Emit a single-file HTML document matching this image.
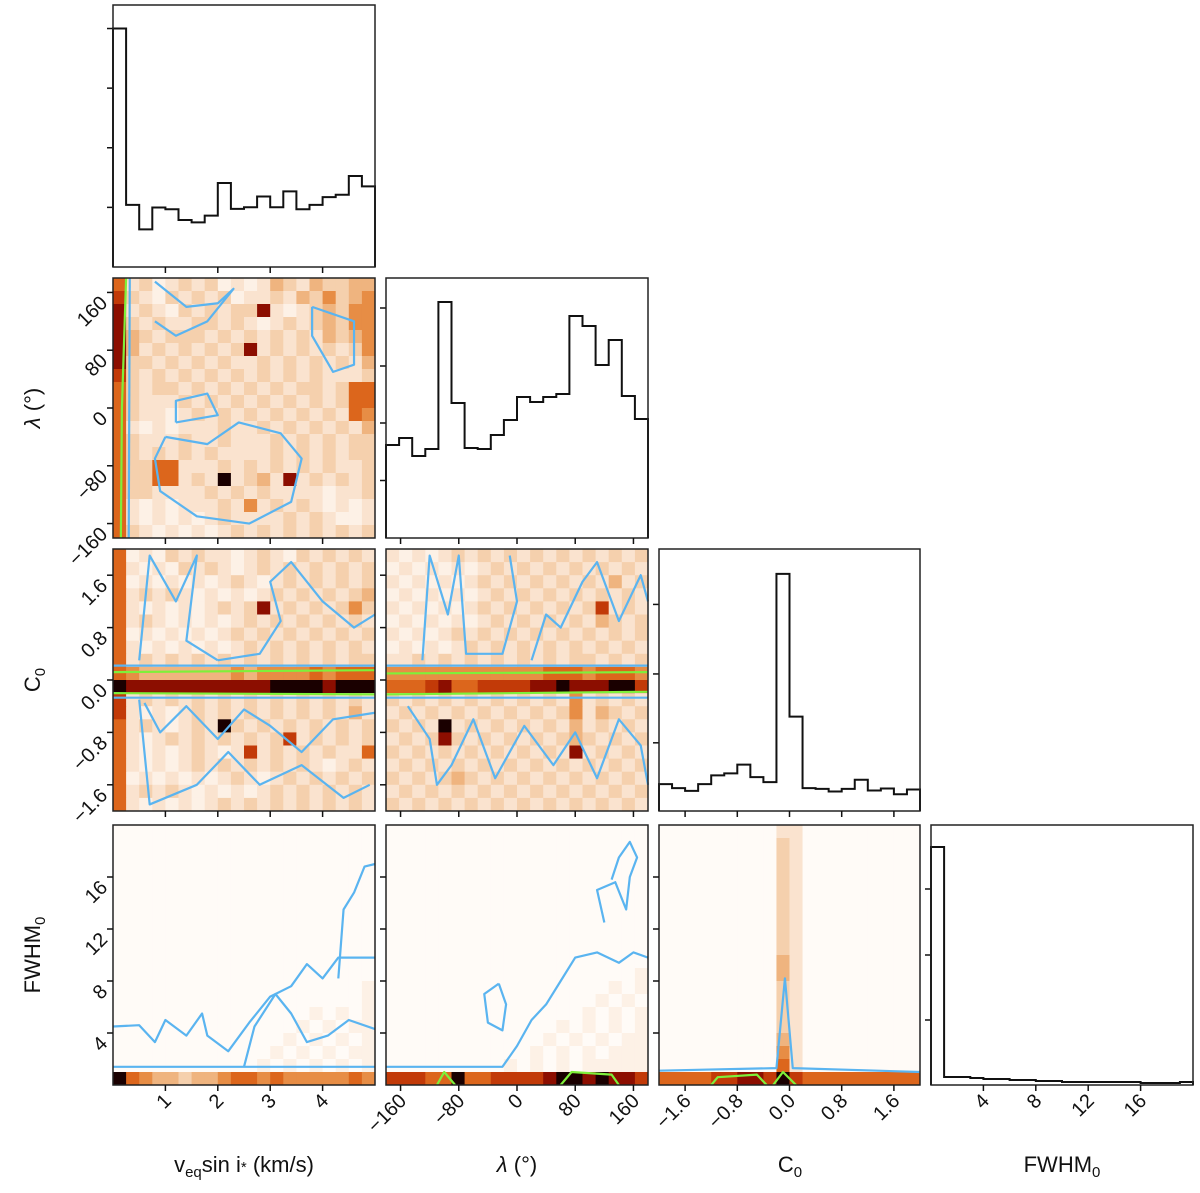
<!DOCTYPE html>
<html><head><meta charset="utf-8">
<style>
html,body{margin:0;padding:0;background:#fff;}
svg{display:block;font-family:"Liberation Sans",sans-serif;}
</style></head>
<body>
<svg id="c" width="1200" height="1193" viewBox="0 0 1200 1193" xmlns="http://www.w3.org/2000/svg"></svg>
<script>
// ---- data ----
const paramNames = ["v", "lambda", "C0", "FWHM0"];
const paramMin = [0, -180, -2, 0];
const paramMax = [5, 180, 2, 20];
const xTickVals = [[1,2,3,4],[-160,-80,0,80,160],[-1.6,-0.8,0,0.8,1.6],[4,8,12,16]];
const xTickLabels = [["1","2","3","4"],["−160","−80","0","80","160"],["−1.6","−0.8","0.0","0.8","1.6"],["4","8","12","16"]];

const histV = [710,185,112,177,172,140,133,153,250,173,178,210,178,225,172,185,208,215,271,240];
const histVMax = 780;
const histVTicks = [177.5,355,532.5,710];
const histLam = [93,100,82,89,236,135,90,89,103,118,141,136,141,144,222,212,173,198,142,119];
const histLamMax = 260;
const histLamTicks = [57.5,115,172,230];
const histC0 = [80,68,60,80,106,112,138,101,86,706,281,68,66,58,66,93,61,67,50,64];
const histC0Max = 780;
const histC0Ticks = [203,408,615];
const histF = [238,8,8,7,6,6,5,5,4,4,3,3,3,3,3,3,2,2,2,3];
const histFMax = 260;
const histFTicks = [65,130,196];

const gridLamV = [
"62312323121243243344","73213232312232435345","82321323233821234355","83232233232123234355",
"84323332323232324345","84232323238232323235","83323232322323232324","73232323232323232223",
"63233232323232332366","63222323232323232366","63221232323232323265","62121222322323232324",
"63222322322232323233","63232323222232323233","63366222323232323223","63366232923428232323",
"63322223232322221223","62121222325232321212","62121212322223232112","63212121232323232323"];
const gridC0V = [
"61213232212321323232","62121323212323232323","61212121232123232323","62323212121232323234",
"62121212323823232353","62321212123232323232","61212121232323232323","62121212123232323232",
"62323232323232323233","65444444454555565666","98888888888899998999","72323232323232323232",
"72121232323232323242","62321232932323232323","62123232323237232323","62121232127232323226",
"62121232323232321232","61212121232123232323","62323212121232323232","62121212323232323232"];
const gridC0Lam = [
"21212323232323232323","12121212323232323232","21212123232323232423","12121212323232323232",
"21212123232323237232","12121212323232324323","21212323232323232323","12121232323232323232",
"22323232323232332323","55555555555566656665","66678667777889888997","32323232323232523232",
"23232323232323524323","32329232323232423232","23238323232323432323","32323232323232823232",
"23232323232323232323","32323432323232323232","23232323232323232323","32323232323232323232"];
const gridFV = [
"00000000000000000000","00000000000000000000","00000000000000000000","00000000000000000000",
"00000000000000000000","00000000000000000000","00000000000000000000","00000000000000000000",
"00000000000000000000","00000000000000000000","00000000000000000000","00000000000000000000",
"00000000000000000001","00000000000000000001","00000000000000010101","00000000000000101011",
"00000000000001010101","00000000000010101011","00000000000101010101","96544344566565555565"];
const gridFLam = [
"00000000000000000000","00000000000000000000","00000000000000000000","00000000000000000000",
"00000000000000000000","00000000000000000000","00000000000000000000","00000000000000000000",
"00000000000000000000","00000000000000000000","00000000000000000000","00000000000000000001",
"00000000000000000101","00000000000000001010","00000000000000010101","00000000000001010101",
"00000000000010101011","00000000000101010111","00000000010101011111","77766966777789989887"];
const gridFC0 = [
"00000000022000000000","00000000032000000000","00000000032000000000","00000000032000000000",
"00000000032000000000","00000000032000000000","00000000032000000000","00000000032000000000",
"00000000032000000000","00000000032000000000","00000000042000000000","00000000042000000000",
"00000000032000000000","00000000032000000000","00000000032000000000","00000000032000000000",
"00000000042000000000","00000000052000000000","00000000062000000000","66667788797666666666"];

// contours in data coordinates [x, y]; px/py are 1-based param indices
const contourBlue = [
 {px:1, py:4, pts:[[0,1.4],[5,1.4]]},
 {px:1, py:4, pts:[[0,4.5],[0.5,4.6],[0.8,3.3],[1.0,5.0],[1.4,3.8],[1.7,5.5],[1.8,3.8],[2.2,2.6],[2.6,4.8],[3.0,6.8],[3.4,7.6],[3.7,9.3],[4.0,8.2],[4.3,9.8],[5,9.8]]},
 {px:1, py:4, pts:[[4.3,8.2],[4.4,13.5],[4.6,14.8],[4.8,16.8],[5,17.0]]},
 {px:1, py:4, pts:[[2.5,1.4],[2.7,4.5],[3.1,7.0],[3.4,5.5],[3.7,3.3],[4.1,3.8],[4.5,5.0],[5,4.3]]},
 {px:2, py:4, pts:[[-180,1.4],[-20,1.4],[0,3.0],[20,5.0],[40,6.2],[60,8.0],[80,9.8],[110,10.2],[140,9.4],[160,10.2],[180,9.8]]},
 {px:2, py:4, pts:[[120,12.5],[110,15],[135,15.6],[150,13.5],[155,16.0],[165,17.5],[155,18.7],[140,17.5],[130,15.8]]},
 {px:2, py:4, pts:[[-25,7.8],[-15,6.2],[-20,4.2],[-40,4.8],[-45,7.0],[-25,7.8]]},
 {px:3, py:4, pts:[[-2,1.1],[-0.2,1.3],[-0.07,8.2],[0.05,1.3],[2,1.0]]},
 {px:1, py:3, pts:[[0,0.22],[5,0.22]]},
 {px:1, py:3, pts:[[0,-0.27],[5,-0.27]]},
 {px:2, py:3, pts:[[-180,0.22],[180,0.22]]},
 {px:2, py:3, pts:[[-180,-0.27],[180,-0.27]]},
 {px:1, py:2, pts:[[0.3,-180],[0.32,180]]},
 {px:1, py:2, pts:[[1.0,-40],[1.8,-50],[2.4,-20],[3.2,-35],[3.6,-70],[3.4,-130],[2.6,-160],[1.6,-150],[0.9,-115],[0.8,-70],[1.0,-40]]},
 {px:1, py:2, pts:[[1.2,-20],[2.0,-10],[1.8,20],[1.2,10],[1.2,-20]]},
 {px:1, py:2, pts:[[0.8,175],[1.4,140],[2.0,145],[2.3,165],[1.8,120],[1.2,100],[0.8,120]]},
 {px:1, py:2, pts:[[3.8,140],[4.6,120],[4.6,60],[4.2,50],[3.8,100],[3.8,140]]},
 {px:1, py:3, pts:[[0.5,-0.3],[0.7,-1.9],[1.6,-1.6],[2.2,-1.1],[2.8,-1.6],[3.6,-1.3],[4.4,-1.8],[4.9,-1.6]]},
 {px:1, py:3, pts:[[0.6,-0.35],[0.9,-0.8],[1.4,-0.4],[2.0,-0.9],[2.5,-0.45],[3.0,-0.7],[3.6,-1.1],[4.2,-0.6],[5,-0.5]]},
 {px:1, py:3, pts:[[0.5,0.3],[0.7,1.9],[1.2,1.2],[1.6,1.9],[1.4,0.6],[2.0,0.3]]},
 {px:1, py:3, pts:[[2.0,0.3],[2.8,0.4],[3.2,0.9],[3.0,1.5],[3.4,1.8],[4.0,1.2],[4.6,0.8],[5,1.0]]},
 {px:2, py:3, pts:[[-130,0.3],[-120,1.9],[-95,1.0],[-80,1.9],[-70,0.4],[-20,0.4],[0,1.2],[-10,1.9]]},
 {px:2, py:3, pts:[[20,0.3],[40,1.0],[60,0.8],[90,1.5],[110,1.8],[140,0.9],[170,1.6],[180,1.2]]},
 {px:2, py:3, pts:[[-150,-0.4],[-120,-0.9],[-110,-1.6],[-90,-1.3],[-60,-0.6],[-30,-1.5],[10,-0.7],[50,-1.3],[80,-0.8],[110,-1.5],[140,-0.6],[170,-1.0],[180,-1.6]]}
];
const contourGreen = [
 {px:1, py:2, pts:[[0.15,-180],[0.17,0],[0.25,180]]},
 {px:1, py:3, pts:[[0,0.12],[5,0.15]]},
 {px:1, py:3, pts:[[0,-0.2],[5,-0.22]]},
 {px:2, py:3, pts:[[-180,0.1],[180,0.12]]},
 {px:2, py:3, pts:[[-180,-0.22],[180,-0.18]]},
 {px:3, py:4, pts:[[-1.2,0],[-1.1,0.6],[-0.5,0.8],[-0.35,0]]},
 {px:3, py:4, pts:[[-0.25,0],[-0.1,1.0],[0.1,0]]},
 {px:2, py:4, pts:[[-110,0],[-100,1.0],[-85,0]]},
 {px:2, py:4, pts:[[60,0],[75,1.0],[130,0.8],[140,0]]}
];

// ---- geometry ----
const PX = [[113,375],[386,648],[659,920],[931,1193]];
const PY = [[5,267],[278,538],[549,811],[825,1085]];
const NS = "http://www.w3.org/2000/svg";
const svg = document.getElementById('c');
function el(tag, attrs, parent){ const e=document.createElementNS(NS,tag); for(const k in attrs) e.setAttribute(k,attrs[k]); (parent||svg).appendChild(e); return e; }
function sx(p, v){ return PX[p][0] + (v-paramMin[p])/(paramMax[p]-paramMin[p])*(PX[p][1]-PX[p][0]); }
function sy(p, r, v){ return PY[r][1] - (v-paramMin[p])/(paramMax[p]-paramMin[p])*(PY[r][1]-PY[r][0]); }
const cmap = ["#fffbf7","#fdf1e6","#fae3cf","#f5d0ad","#efb47f","#e78d45","#dc661c","#c23a08","#8c0e00","#1a0000"];

function heat(col,row,grid){
  const g = el('g',{});
  
  
  const n = grid.length, m = grid[0].length;
  const dx=(paramMax[col]-paramMin[col])/m, dy=(paramMax[row]-paramMin[row])/n;
  for(let i=0;i<n;i++) for(let j=0;j<m;j++){
    const v = +grid[i][j];
    const x0=sx(col,paramMin[col]+j*dx), x1=sx(col,paramMin[col]+(j+1)*dx);
    const yTop=sy(row,row,paramMax[row]-i*dy), yBot=sy(row,row,paramMax[row]-(i+1)*dy);
    const r = el('rect',{x:x0,y:yTop,width:x1-x0+0.4,height:yBot-yTop+0.4,fill:cmap[v]},g);
    
    
  }
}
function hist(p,counts,ymax,ticks){
  const n=counts.length, dx=(paramMax[p]-paramMin[p])/n;
  const y1=PY[p][1], y0=PY[p][0];
  const ys=c=>y1-c/ymax*(y1-y0);
  let d='M'+sx(p,paramMin[p])+' '+y1;
  for(let i=0;i<n;i++){ d+=' L'+sx(p,paramMin[p]+i*dx)+' '+ys(counts[i])+' L'+sx(p,paramMin[p]+(i+1)*dx)+' '+ys(counts[i]); }
  d+=' L'+sx(p,paramMax[p])+' '+y1;
  const h=el('path',{d:d,fill:'none',stroke:'#111','stroke-width':2});
  
  
  for(const t of ticks){
    const tk=el('line',{x1:PX[p][0]-6,x2:PX[p][0],y1:ys(t),y2:ys(t),stroke:'#111','stroke-width':1.5});
    
    
  }
}
function contours(list,color){
  for(const c of list){
    const d=c.pts.map((q,i)=>(i?'L':'M')+sx(c.px-1,q[0])+' '+sy(c.py-1,c.py-1,q[1])).join(' ');
    const p=el('path',{d:d,fill:'none',stroke:color,'stroke-width':2.2,'stroke-linejoin':'round'});
    
    
  }
}

heat(0,1,gridLamV); heat(0,2,gridC0V); heat(1,2,gridC0Lam);
heat(0,3,gridFV); heat(1,3,gridFLam); heat(2,3,gridFC0);
// clip contours to panels via drawing order (contours are within ranges)
contours(contourBlue,'#5ab4f0');
contours(contourGreen,'#7ef03a');
hist(0,histV,histVMax,histVTicks);
hist(1,histLam,histLamMax,histLamTicks);
hist(2,histC0,histC0Max,histC0Ticks);
hist(3,histF,histFMax,histFTicks);

for(let r=0;r<4;r++) for(let c=0;c<=r;c++){
  const f=el('rect',{x:PX[c][0],y:PY[r][0],width:PX[c][1]-PX[c][0],height:PY[r][1]-PY[r][0],fill:'none',stroke:'#222','stroke-width':1.5});
  
  
  for(const t of xTickVals[c]){
    const x=sx(c,t);
    const tk=el('line',{x1:x,x2:x,y1:PY[r][1],y2:PY[r][1]+6,stroke:'#111','stroke-width':1.5});
    
    
  }
  if(c<r){
    xTickVals[r].forEach((t,i)=>{
      const y=sy(r,r,t);
      const tk=el('line',{x1:PX[c][0]-6,x2:PX[c][0],y1:y,y2:y,stroke:'#111','stroke-width':1.5});
      
      
      if(c===0){
        const tx=el('text',{x:PX[0][0]-10,y:y+14,'font-size':20,'text-anchor':'end',fill:'#111',transform:'rotate(-45 '+(PX[0][0]-10)+' '+(y+6)+')'});
        tx.textContent=xTickLabels[r][i];
        
        
      }
    });
  }
}
for(let c=0;c<4;c++){
  xTickVals[c].forEach((t,i)=>{
    const x=sx(c,t)+7, y=1102;
    const tx=el('text',{x:x,y:y,'font-size':20,'text-anchor':'end',fill:'#111',transform:'rotate(-45 '+x+' '+y+')'});
    tx.textContent=xTickLabels[c][i];
    
    
  });
}
</script>
<svg width="1200" height="1193" style="position:absolute;left:0;top:0" xmlns="http://www.w3.org/2000/svg" font-family="Liberation Sans, sans-serif" fill="#111">
  <text x="244" y="1172" font-size="22" text-anchor="middle">v<tspan font-size="15" dy="5">eq</tspan><tspan dy="-5">sin i</tspan><tspan font-size="15">*</tspan> (km/s)</text>
  <text x="517" y="1172" font-size="22" text-anchor="middle"><tspan font-style="italic">λ</tspan> (°)</text>
  <text x="790" y="1172" font-size="22" text-anchor="middle">C<tspan font-size="15" dy="5">0</tspan></text>
  <text x="1062" y="1172" font-size="22" text-anchor="middle">FWHM<tspan font-size="15" dy="5">0</tspan></text>
  <text x="0" y="0" font-size="22" text-anchor="middle" transform="translate(40 408) rotate(-90)"><tspan font-style="italic">λ</tspan> (°)</text>
  <text x="0" y="0" font-size="22" text-anchor="middle" transform="translate(40 680) rotate(-90)">C<tspan font-size="15" dy="5">0</tspan></text>
  <text x="0" y="0" font-size="22" text-anchor="middle" transform="translate(40 955) rotate(-90)">FWHM<tspan font-size="15" dy="5">0</tspan></text>
</svg>
</body></html>
